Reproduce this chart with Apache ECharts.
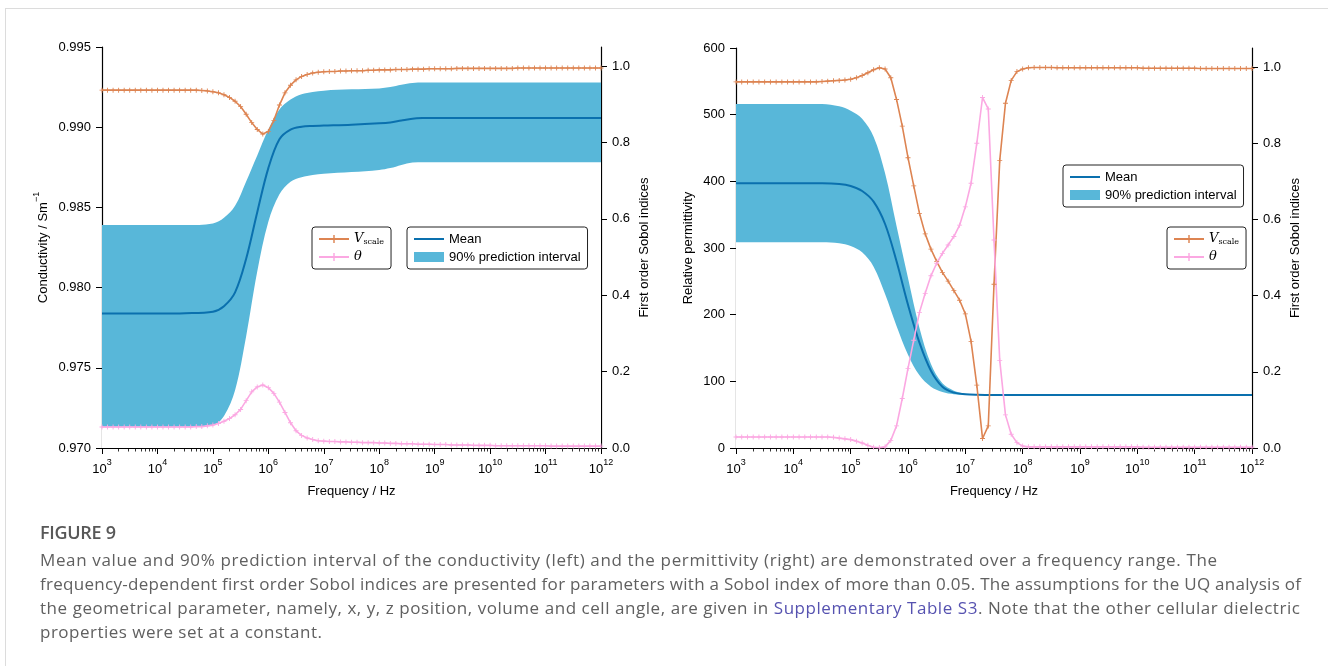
<!DOCTYPE html>
<html><head><meta charset="utf-8">
<script src="https://cdn.jsdelivr.net/npm/echarts@6/dist/echarts.min.js"></script>
<style>
html,body{margin:0;padding:0;background:#fff;}
#wrap{position:relative;width:1328px;height:666px;overflow:hidden;background:#fff;}
#chart{position:absolute;left:0;top:0;width:1328px;height:666px;}
#frameTop{position:absolute;left:5px;top:8px;right:0;height:1px;background:#dcdcdc;}
#frameLeft{position:absolute;left:5px;top:8px;width:1px;bottom:0;background:#dcdcdc;}
.cap{position:absolute;left:40px;white-space:nowrap;font-family:'Open Sans',Lato,sans-serif;font-size:17px;line-height:24px;color:#606060;}
#figt{top:520px;font-size:18px;font-weight:600;color:#585858;letter-spacing:-0.3px;}
.lnk{color:#5652b0;}
</style></head>
<body><div id="wrap">
<div id="chart"></div>
<div id="frameTop"></div><div id="frameLeft"></div>
<div class="cap" id="figt">FIGURE 9</div>
<div class="cap" id="l1" style="top:548px" data-w="1177">Mean value and 90% prediction interval of the conductivity (left) and the permittivity (right) are demonstrated over a frequency range. The</div>
<div class="cap" id="l2" style="top:572px" data-w="1261">frequency-dependent first order Sobol indices are presented for parameters with a Sobol index of more than 0.05. The assumptions for the UQ analysis of</div>
<div class="cap" id="l3" style="top:596px" data-w="1260">the geometrical parameter, namely, x, y, z position, volume and cell angle, are given in <span class="lnk">Supplementary Table S3</span>. Note that the other cellular dielectric</div>
<div class="cap" id="l4" style="top:620px" data-w="282">properties were set at a constant.</div>
</div>
<script>
// ---- x grid (log10 of frequency / Hz) for the Sobol index curves ----
const sobolExp = [3.0,3.1,3.2,3.3,3.4,3.5,3.6,3.7,3.8,3.9,4.0,4.1,4.2,4.3,4.4,4.5,4.6,4.7,4.8,4.9,
5.0,5.1,5.2,5.3,5.4,5.5,5.6,5.7,5.8,5.9,6.0,6.1,6.2,6.3,6.4,6.5,6.6,6.7,6.8,6.9,
7.0,7.1,7.2,7.3,7.4,7.5,7.6,7.7,7.8,7.9,8.0,8.1,8.2,8.3,8.4,8.5,8.6,8.7,8.8,8.9,
9.0,9.1,9.2,9.3,9.4,9.5,9.6,9.7,9.8,9.9,10.0,10.1,10.2,10.3,10.4,10.5,10.6,10.7,10.8,10.9,
11.0,11.1,11.2,11.3,11.4,11.5,11.6,11.7,11.8,11.9,12.0];

// ---- Left panel: conductivity ----
const vscaleLeft = [0.937,0.937,0.937,0.937,0.937,0.937,0.937,0.937,0.937,0.937,0.937,0.937,0.937,0.937,0.937,0.937,0.937,0.937,
0.936,0.935,0.933,0.930,0.925,0.918,0.908,0.894,0.874,0.852,0.834,0.822,0.829,0.858,0.898,0.930,0.950,0.964,0.973,0.978,0.982,0.984,
0.985,0.986,0.986,0.987,0.987,0.988,0.988,0.988,0.989,0.989,0.990,0.990,0.990,0.991,0.991,0.991,0.992,0.992,0.992,0.993,
0.993,0.993,0.993,0.993,0.994,0.994,0.994,0.994,0.994,0.994,0.994,0.994,0.994,0.994,0.994,
0.995,0.995,0.995,0.995,0.995,0.995,0.995,0.995,0.995,0.995,0.995,0.995,0.995,0.995,0.995,0.995];
const thetaLeft = [0.055,0.055,0.055,0.055,0.055,0.055,0.055,0.055,0.055,0.055,0.055,0.055,0.055,0.055,0.055,0.055,0.055,
0.056,0.056,0.058,0.060,0.064,0.070,0.077,0.087,0.101,0.124,0.147,0.160,0.165,0.158,0.143,0.120,0.093,0.066,0.045,0.033,0.026,0.022,0.019,0.018,
0.017,0.017,0.016,0.016,0.015,0.015,0.014,0.014,0.014,0.013,
0.013,0.012,0.012,0.011,0.011,0.011,0.010,0.010,0.010,0.009,
0.009,0.009,0.008,0.008,0.008,0.008,0.007,0.007,0.007,0.007,
0.006,0.006,0.006,0.006,0.006,0.006,0.006,0.006,0.006,0.006,
0.005,0.005,0.005,0.005,0.005,0.005,0.005,0.005,0.005,0.005];

const bandExpLeft = [3.0,3.5,4.0,4.5,5.0,5.2,5.4,5.6,5.8,6.0,6.2,6.4,6.6,6.8,7.0,7.5,8.0,8.2,8.4,8.6,8.8,9.0,10.0,11.0,12.0];
const meanLeft  = [0.97838,0.97838,0.97838,0.97840,0.97850,0.97884,0.97970,0.98180,0.98470,0.98745,0.98925,0.98985,0.99003,0.99008,0.99010,0.99015,0.99024,0.99030,0.99042,0.99053,0.99057,0.99058,0.99058,0.99058,0.99058];
const upperLeft = [0.98390,0.98390,0.98390,0.98390,0.98400,0.98435,0.98510,0.98662,0.98824,0.98985,0.99110,0.99172,0.99205,0.99220,0.99228,0.99236,0.99242,0.99250,0.99265,0.99276,0.99278,0.99278,0.99278,0.99278,0.99278];
const lowerLeft = [0.97133,0.97133,0.97133,0.97133,0.97144,0.97200,0.97360,0.97697,0.98100,0.98410,0.98582,0.98660,0.98688,0.98702,0.98710,0.98720,0.98733,0.98745,0.98765,0.98780,0.98782,0.98782,0.98782,0.98782,0.98782];

// ---- Right panel: relative permittivity ----
const vscaleRight = [0.961,0.961,0.961,0.961,0.961,0.961,0.961,0.961,0.961,0.961,0.961,0.961,0.961,0.961,0.961,
0.962,0.963,0.964,0.965,0.966,0.968,0.972,0.978,0.985,0.993,0.998,0.995,0.972,0.915,0.845,
0.762,0.688,0.616,0.562,0.522,0.490,0.461,0.438,0.413,0.388,0.352,0.280,0.165,0.025,0.058,
0.430,0.755,0.905,0.965,0.988,0.995,0.998,0.999,0.999,0.999,0.999,0.998,
0.998,0.998,0.998,0.998,0.998,0.998,0.998,0.998,0.998,0.998,0.998,0.998,0.998,0.998,
0.997,0.997,0.997,0.997,0.997,0.997,0.997,0.997,0.997,0.997,
0.996,0.996,0.996,0.996,0.996,0.996,0.996,0.996,0.996,0.996];
const thetaRight = [0.029,0.029,0.029,0.029,0.029,0.029,0.029,0.029,0.029,0.029,0.029,0.029,0.029,0.029,0.029,0.029,0.029,
0.028,0.026,0.024,0.022,0.018,0.013,0.007,0.002,0.001,0.003,0.020,0.058,0.130,
0.209,0.283,0.356,0.406,0.452,0.485,0.511,0.533,0.555,0.585,0.633,0.695,0.800,0.920,0.890,
0.546,0.230,0.087,0.036,0.014,0.005,
0.003,0.003,0.003,0.003,0.003,0.003,0.003,0.003,0.003,0.003,0.003,0.003,0.003,0.003,0.003,0.003,0.003,0.003,0.003,0.003,
0.002,0.002,0.002,0.002,0.002,0.002,0.002,0.002,0.002,0.002,0.002,0.002,0.002,0.002,0.002,0.002,0.002,0.002,0.002,0.002];

const bandExpRight = [3.0,3.5,4.0,4.5,4.8,5.0,5.2,5.4,5.6,5.8,6.0,6.2,6.4,6.6,6.8,7.0,7.2,7.5,8.0,9.0,10.0,11.0,12.0];
const meanRight  = [397,397,397,397,396,393,385.5,369.5,336,280,215,158,116,92,83,80.6,79.8,79.5,79.5,79.5,79.5,79.5,79.5];
const upperRight = [516,516,516,516,512.5,506,494,467,412,333,255,180,126,97,86,81.5,80,79.6,79.5,79.5,79.5,79.5,79.5];
const lowerRight = [308.5,308.5,308.5,308.5,307,303,293.5,272,231,183,140,109,92,84,80.7,79.8,79.5,79.5,79.5,79.5,79.5,79.5,79.5];

// ---- tick labels ----
const sobolTicks = [0, 0.2, 0.4, 0.6, 0.8, 1.0];
const decadeTicks = [3,4,5,6,7,8,9,10,11,12];

// ---- styling ----
const C_MEAN = '#0a70ae', C_BAND = '#58b7d9', C_V = '#dd8452', C_T = '#fba8e2';
const FONT = '"Liberation Sans", Arial, sans-serif';
const minorTicks = [];
for (let n = 3; n < 12; n++) for (let k = 2; k <= 9; k++) minorTicks.push(n + Math.log10(k));

const zip = (xs, ys) => xs.map((x, i) => [x, ys[i]]);
const PLUS = 'path://M-0.18,-1H0.18V1H-0.18Z M-1,-0.18H1V0.18H-1Z';

function xAxes(grid) {
  return [{
    type: 'value', gridIndex: grid, position: 'bottom', min: 3, max: 12, interval: 1,
    axisLine: { show: true, lineStyle: { color: '#000', width: 1.2 } },
    axisTick: { show: true, length: 6, customValues: decadeTicks, lineStyle: { color: '#000', width: 1 } },
    splitLine: { show: false },
    axisLabel: {
      margin: 10, customValues: decadeTicks, formatter: v => '{b|10}{s|' + v + '}',
      rich: {
        b: { fontSize: 13, fontFamily: FONT, color: '#000', lineHeight: 18, verticalAlign: 'bottom' },
        s: { fontSize: 9, fontFamily: FONT, color: '#000', lineHeight: 10, verticalAlign: 'top' }
      }
    },
    name: 'Frequency / Hz', nameLocation: 'middle', nameGap: 37,
    nameTextStyle: { fontSize: 13, fontFamily: FONT, color: '#000' }
  }, {
    type: 'value', gridIndex: grid, position: 'bottom', min: 3, max: 12,
    axisLine: { show: false }, axisLabel: { show: false }, splitLine: { show: false },
    axisTick: { show: true, length: 3.5, customValues: minorTicks, lineStyle: { color: '#000', width: 0.8 } }
  }];
}
function sobolAxis(grid) {
  return {
    type: 'value', gridIndex: grid, position: 'right', min: 0, max: 1.05,
    axisLine: { show: true, lineStyle: { color: '#000', width: 1.2 } },
    axisTick: { show: true, length: 6, customValues: sobolTicks, lineStyle: { color: '#000' } },
    axisLabel: { customValues: sobolTicks, margin: 11, fontSize: 13, fontFamily: FONT, color: '#000', formatter: v => v.toFixed(1) },
    splitLine: { show: false },
    name: 'First order Sobol indices', nameLocation: 'middle', nameRotate: 90, nameGap: 37,
    nameTextStyle: { fontSize: 13, fontFamily: FONT, color: '#000' }
  };
}
// band = upper edge filled down to the axis in blue, then lower edge filled down in white
function bandSeries(xi, yi, xs, lo, hi, mean) {
  return [{
    type: 'line', name: '90% prediction interval', xAxisIndex: xi, yAxisIndex: yi,
    data: zip(xs, hi), symbol: 'none', smooth: 0.35, color: C_BAND,
    lineStyle: { width: 0, opacity: 0 }, areaStyle: { color: C_BAND, opacity: 1, origin: 'start' }
  }, {
    type: 'line', name: 'band-lower', xAxisIndex: xi, yAxisIndex: yi, silent: true,
    data: zip(xs, lo), symbol: 'none', smooth: 0.35, color: '#fff',
    lineStyle: { width: 0, opacity: 0 }, areaStyle: { color: '#fff', opacity: 1, origin: 'start' }
  }, {
    type: 'line', name: 'Mean', xAxisIndex: xi, yAxisIndex: yi, data: zip(xs, mean),
    symbol: 'none', smooth: 0.35, color: C_MEAN, lineStyle: { width: 2, color: C_MEAN }
  }];
}
function sobolSeries(xi, yi, v, t) {
  const base = { type: 'line', xAxisIndex: xi, yAxisIndex: yi, symbol: PLUS, symbolSize: 5, showSymbol: true };
  return [
    Object.assign({}, base, { name: 'Vscale', data: zip(sobolExp, v), color: C_V, lineStyle: { width: 1.6, color: C_V }, itemStyle: { color: C_V } }),
    Object.assign({}, base, { name: 'θ', data: zip(sobolExp, t), color: C_T, lineStyle: { width: 1.6, color: C_T }, itemStyle: { color: C_T } })
  ];
}
const legendBase = {
  orient: 'vertical', backgroundColor: '#fff', borderColor: '#222', borderWidth: 1, borderRadius: 3,
  itemWidth: 30, itemHeight: 10, itemGap: 4, padding: [5, 7, 5, 6], selectedMode: false,
  textStyle: {
    fontSize: 13, fontFamily: FONT, color: '#000', lineHeight: 14,
    rich: {
      v: { fontFamily: '"DejaVu Serif", serif', fontStyle: 'italic', fontSize: 13, lineHeight: 14, color: '#000' },
      sub: { fontFamily: '"DejaVu Serif", serif', fontSize: 8, lineHeight: 14, verticalAlign: 'bottom', color: '#000' },
      t: { fontFamily: '"DejaVu Serif", serif', fontStyle: 'italic', fontSize: 13, lineHeight: 14, color: '#000' }
    }
  },
  formatter: n => n === 'Vscale' ? '{v|V}{sub|scale}' : (n === 'θ' ? '{t|θ}' : n)
};
const bandLegendData = [
  { name: 'Mean', itemStyle: { opacity: 0 } },
  { name: '90% prediction interval', icon: 'rect', itemStyle: { color: C_BAND, borderWidth: 0 } }
];
const sobolLegendData = [
  { name: 'Vscale', symbolSize: 5 },
  { name: 'θ', symbolSize: 5 }
];

const option = {
  animation: false,
  backgroundColor: '#fff',
  grid: [
    { left: 102, right: 727, top: 47, bottom: 218 },
    { left: 736, right: 76, top: 48, bottom: 218 }
  ],
  xAxis: [...xAxes(0), ...xAxes(1)],
  yAxis: [
    {
      type: 'value', gridIndex: 0, position: 'left', min: 0.970, max: 0.995, interval: 0.005,
      axisLine: { show: true, lineStyle: { color: '#000', width: 1.2 } },
      axisTick: { show: true, length: 6, lineStyle: { color: '#000' } },
      axisLabel: { margin: 11, fontSize: 13, fontFamily: FONT, color: '#000', formatter: v => v.toFixed(3) },
      splitLine: { show: false },
      name: '{a|Conductivity / Sm}{s|−1}', nameLocation: 'middle', nameRotate: 90, nameGap: 52,
      nameTextStyle: { rich: {
        a: { fontSize: 13, fontFamily: FONT, color: '#000', lineHeight: 18, verticalAlign: 'bottom' },
        s: { fontSize: 9, fontFamily: FONT, color: '#000', lineHeight: 10, verticalAlign: 'top' } } }
    },
    sobolAxis(0),
    {
      type: 'value', gridIndex: 1, position: 'left', min: 0, max: 600, interval: 100,
      axisLine: { show: true, lineStyle: { color: '#000', width: 1.2 } },
      axisTick: { show: true, length: 6, lineStyle: { color: '#000' } },
      axisLabel: { margin: 11, fontSize: 13, fontFamily: FONT, color: '#000' },
      splitLine: { show: false },
      name: 'Relative permittivity', nameLocation: 'middle', nameRotate: 90, nameGap: 41,
      nameTextStyle: { fontSize: 13, fontFamily: FONT, color: '#000' }
    },
    sobolAxis(1)
  ],
  legend: [
    Object.assign({}, legendBase, { left: 312, top: 227, data: sobolLegendData }),
    Object.assign({}, legendBase, { left: 407, top: 227, data: bandLegendData }),
    Object.assign({}, legendBase, { left: 1063, top: 165, data: bandLegendData }),
    Object.assign({}, legendBase, { left: 1167, top: 227, data: sobolLegendData })
  ],
  series: [
    ...bandSeries(0, 0, bandExpLeft, lowerLeft, upperLeft, meanLeft),
    ...sobolSeries(0, 1, vscaleLeft, thetaLeft),
    ...bandSeries(2, 2, bandExpRight, lowerRight, upperRight, meanRight),
    ...sobolSeries(2, 3, vscaleRight, thetaRight)
  ]
};
const chart = echarts.init(document.getElementById('chart'), null, { renderer: 'canvas' });
chart.setOption(option);

// fit caption lines to the reference's line widths
['l1', 'l2', 'l3', 'l4'].forEach(id => {
  const el = document.getElementById(id);
  const target = +el.dataset.w;
  const n = el.textContent.length;
  const w = el.getBoundingClientRect().width;
  el.style.letterSpacing = ((target - w) / (n - 1)).toFixed(3) + 'px';
});
</script>
</body></html>
